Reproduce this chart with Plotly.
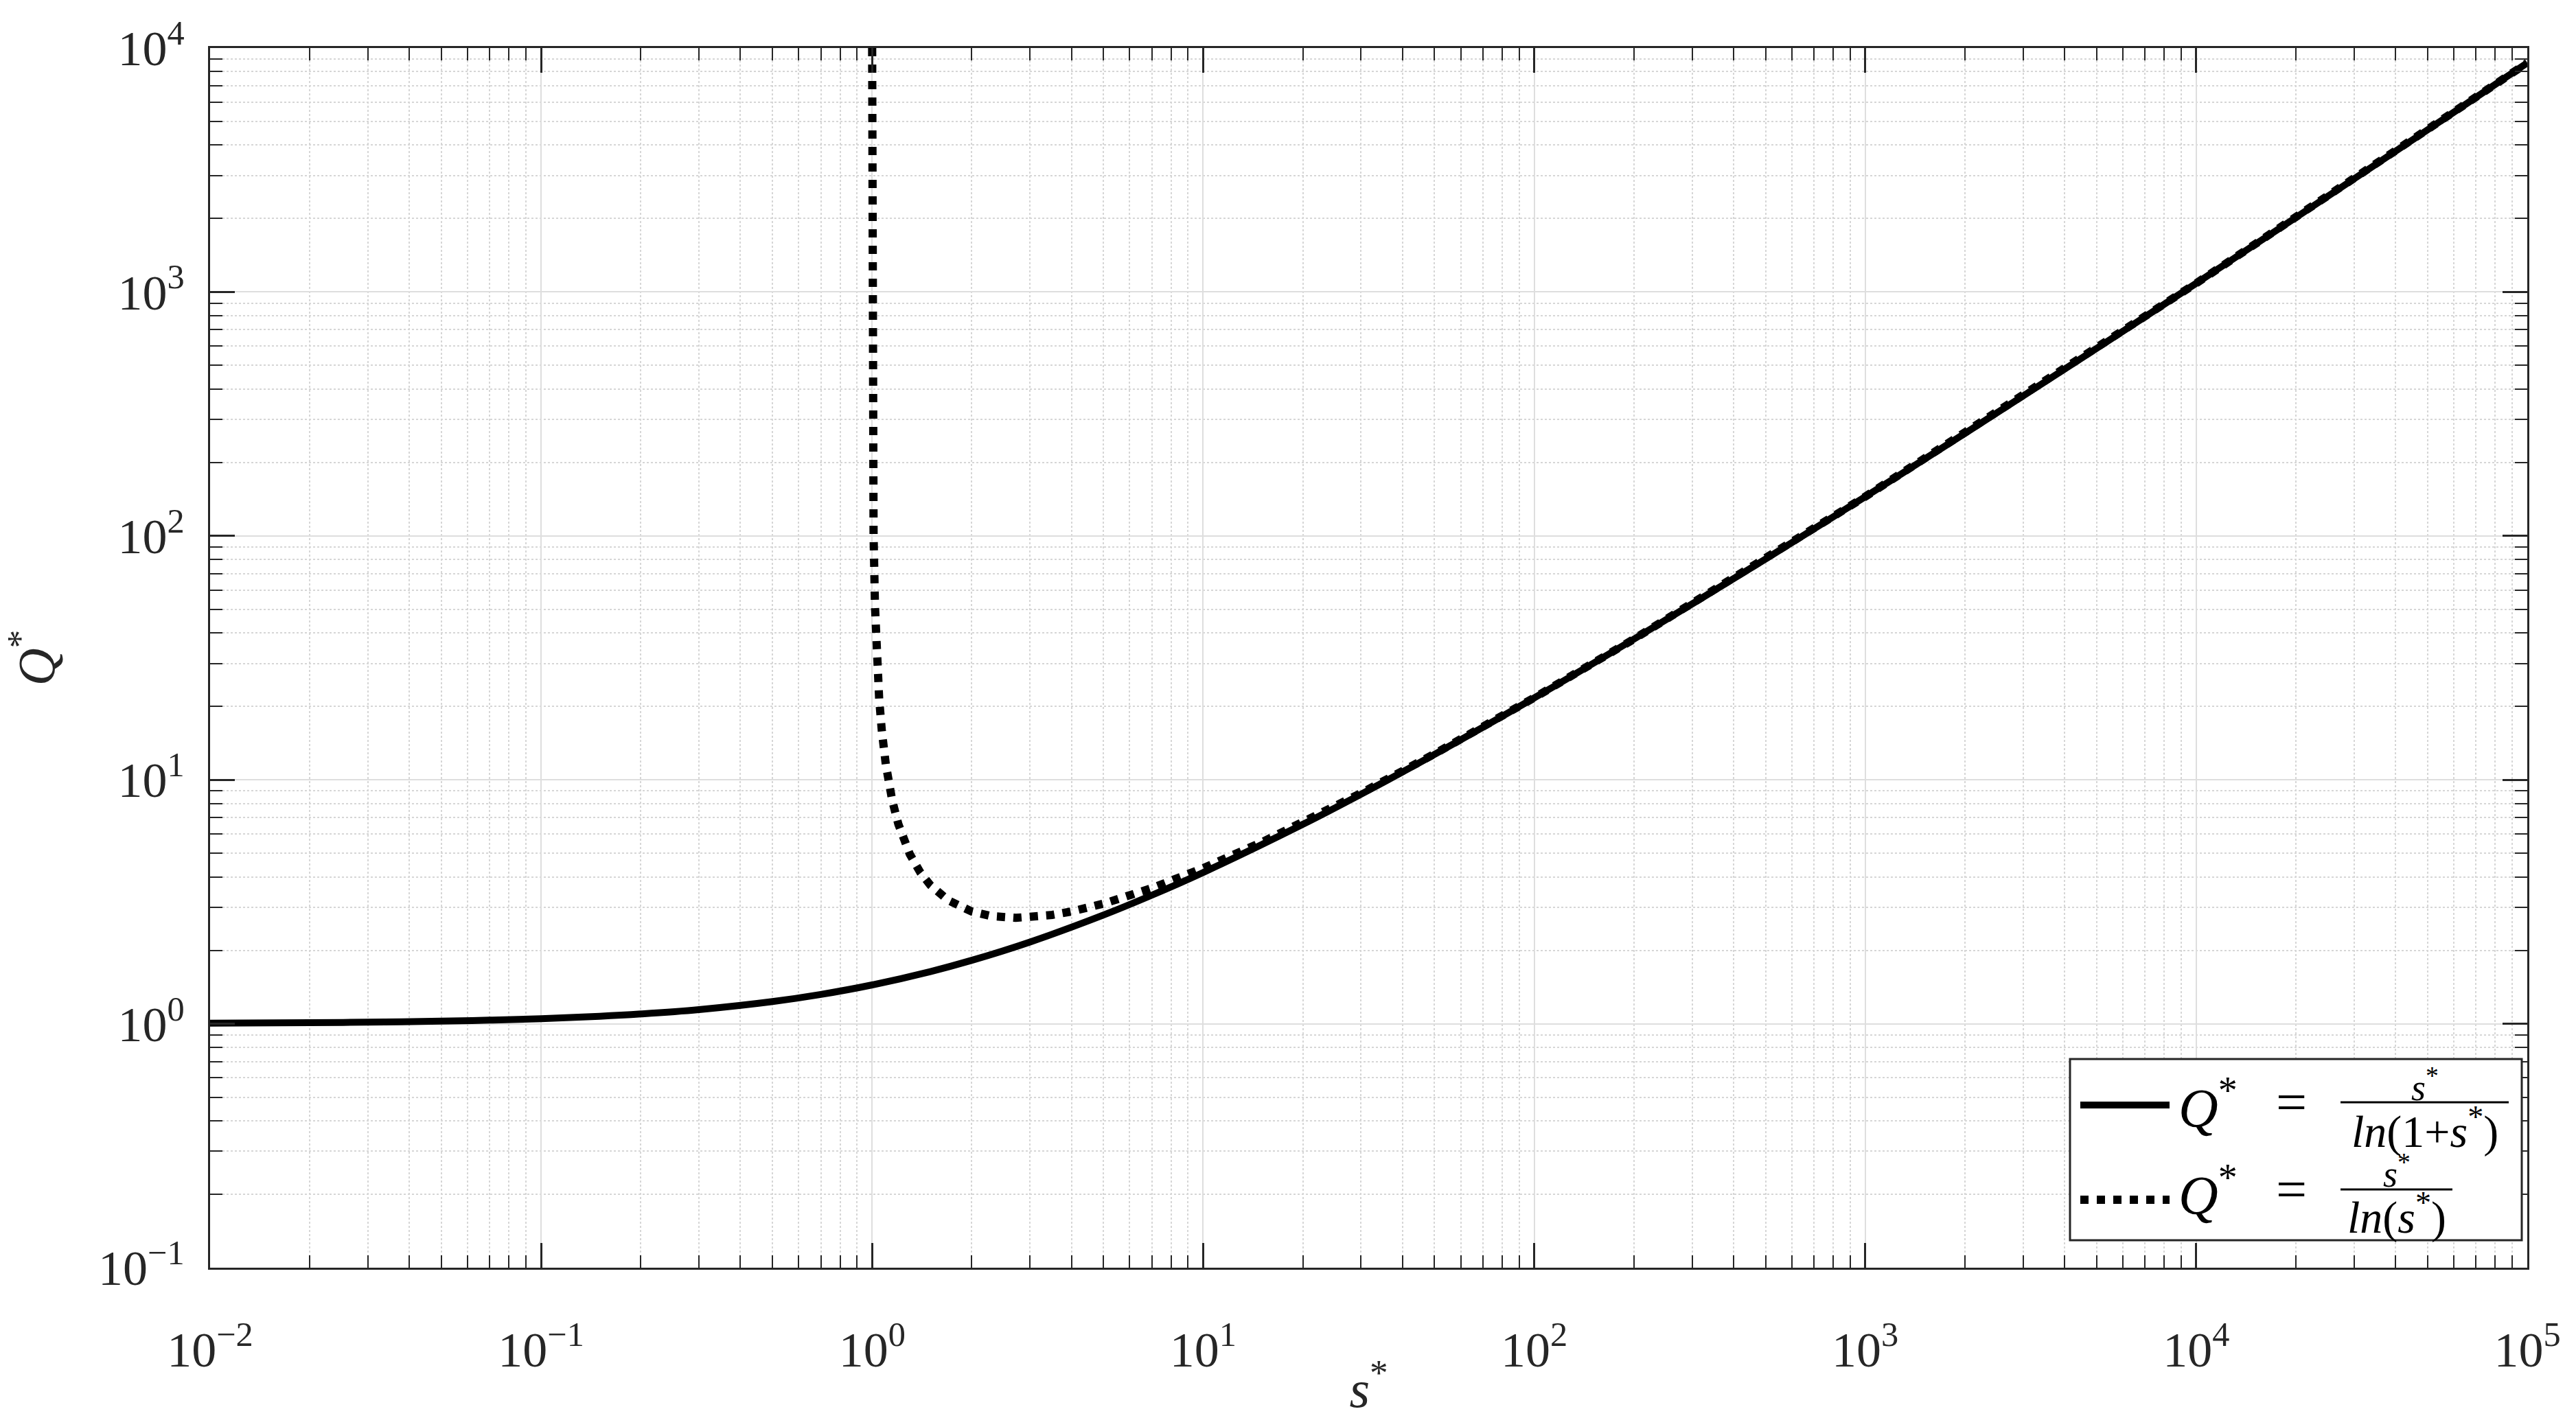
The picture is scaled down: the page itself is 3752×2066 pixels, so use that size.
import plotly.graph_objects as go

# ---------------- data ----------------
s_solid = [0.01, 0.02, 0.03, 0.05, 0.07, 0.1, 0.15, 0.2, 0.3, 0.5, 0.7, 1.0, 1.5, 2.0, 3.0,
           5.0, 7.0, 10.0, 20.0, 30.0, 50.0, 100.0, 200.0, 500.0, 1000.0, 2000.0, 5000.0,
           10000.0, 20000.0, 50000.0, 100000.0]
q_solid = [1.005, 1.010, 1.015, 1.025, 1.035, 1.049, 1.073, 1.097, 1.143, 1.233, 1.319, 1.443,
           1.637, 1.820, 2.164, 2.791, 3.366, 4.170, 6.569, 8.736, 12.72, 21.67, 37.71, 80.43,
           144.7, 263.1, 587.0, 1085.7, 2019.5, 4621.1, 8685.9]

s_dotted = [1.0001, 1.0002, 1.0005, 1.001, 1.002, 1.005, 1.01, 1.02, 1.03, 1.05, 1.07, 1.1,
            1.15, 1.2, 1.3, 1.4, 1.5, 1.7, 2.0, 2.3, 2.718, 3.0, 3.5, 4.0, 5.0, 7.0, 10.0,
            15.0, 20.0, 30.0, 50.0, 100.0, 200.0, 500.0, 1000.0, 10000.0, 100000.0]
q_dotted = [10001.0, 5001.5, 2001.5, 1001.5, 501.5, 201.5, 101.5, 51.51, 34.85, 21.52, 15.82,
            11.54, 8.228, 6.582, 4.955, 4.161, 3.699, 3.204, 2.885, 2.761, 2.718, 2.731, 2.794,
            2.885, 3.107, 3.597, 4.343, 5.539, 6.676, 8.820, 12.78, 21.71, 37.75, 80.46, 144.8,
            1085.7, 8685.9]

x_tick_vals = [1e-2, 1e-1, 1e0, 1e1, 1e2, 1e3, 1e4, 1e5]
x_tick_text = ["10<sup>\u22122</sup>", "10<sup>\u22121</sup>", "10<sup>0</sup>", "10<sup>1</sup>",
               "10<sup>2</sup>", "10<sup>3</sup>", "10<sup>4</sup>", "10<sup>5</sup>"]
y_tick_vals = [1e-1, 1e0, 1e1, 1e2, 1e3, 1e4]
y_tick_text = ["10<sup>\u22121</sup>", "10<sup>0</sup>", "10<sup>1</sup>", "10<sup>2</sup>",
               "10<sup>3</sup>", "10<sup>4</sup>"]

legend_solid = ("<i>Q</i><sup>*</sup>", "<i>s</i><sup>*</sup>", "<i>ln</i>(1+<i>s</i><sup>*</sup>)")
legend_dotted = ("<i>Q</i><sup>*</sup>", "<i>s</i><sup>*</sup>", "<i>ln</i>(<i>s</i><sup>*</sup>)")

# ---------------- layout geometry ----------------
W, H = 3752, 2066
L, R, T, B = 306, 71, 70, 219
PW, PH = W - L - R, H - T - B
FONT = "Liberation Serif, Times New Roman, serif"
AX = "#262626"

def px(xp):
    return (xp - L) / PW

def py(yp):
    return (H - B - yp) / PH

minor_x = [m * 10.0 ** e for e in range(-2, 5) for m in range(2, 10)]
minor_y = [m * 10.0 ** e for e in range(-1, 4) for m in range(2, 10)]

fig = go.Figure()
fig.add_trace(go.Scatter(x=s_dotted, y=q_dotted, mode="lines", name="dotted",
                         line=dict(color="black", width=12, dash="12px,12px"),
                         showlegend=False, hoverinfo="skip"))
fig.add_trace(go.Scatter(x=s_solid, y=q_solid, mode="lines", name="solid",
                         line=dict(color="black", width=10, shape="spline"),
                         showlegend=False, hoverinfo="skip"))

axis_common = dict(
    type="log", showline=True, linecolor=AX, linewidth=3, mirror="ticks",
    ticks="inside", ticklen=36, tickwidth=3, tickcolor=AX, automargin=False,
    showgrid=True, gridcolor="#dedede", gridwidth=2, zeroline=False,
    tickfont=dict(family=FONT, size=72, color=AX),
)

fig.update_xaxes(
    **axis_common, range=[-2, 5], tickmode="array", tickvals=x_tick_vals, ticktext=x_tick_text,
    minor=dict(tickmode="array", tickvals=minor_x, ticks="inside", ticklen=18, tickwidth=2,
               tickcolor=AX, showgrid=True, gridcolor="#d6d6d6", gridwidth=2, griddash="dot"),
    title=dict(text="<i>s</i><sup>*</sup>", font=dict(family=FONT, size=76, color=AX), standoff=0),
    ticklabelstandoff=55,
)
fig.update_yaxes(
    **axis_common, range=[-1, 4], tickmode="array", tickvals=y_tick_vals, ticktext=y_tick_text,
    minor=dict(tickmode="array", tickvals=minor_y, ticks="inside", ticklen=18, tickwidth=2,
               tickcolor=AX, showgrid=True, gridcolor="#d6d6d6", gridwidth=2, griddash="dot"),
    title=dict(text="<i>Q</i><sup>*</sup>", font=dict(family=FONT, size=76, color=AX), standoff=40),
    ticklabelstandoff=20,
)

# ---------------- custom legend (fractions) ----------------
shapes = [
    dict(type="rect", xref="paper", yref="paper", x0=px(3015), x1=px(3673), y0=py(1807), y1=py(1543),
         line=dict(color=AX, width=3), fillcolor="white", layer="above"),
    dict(type="line", xref="paper", yref="paper", x0=px(3030), x1=px(3160), y0=py(1610), y1=py(1610),
         line=dict(color="black", width=10), layer="above"),
    dict(type="line", xref="paper", yref="paper", x0=px(3030), x1=px(3160), y0=py(1748), y1=py(1748),
         line=dict(color="black", width=12, dash="12px,12px"), layer="above"),
    dict(type="line", xref="paper", yref="paper", x0=px(3409), x1=px(3654), y0=py(1606), y1=py(1606),
         line=dict(color="black", width=3), layer="above"),
    dict(type="line", xref="paper", yref="paper", x0=px(3409), x1=px(3572), y0=py(1733), y1=py(1733),
         line=dict(color="black", width=3), layer="above"),
]

annotations = []
# (texts, Q centre, bar y, numerator centre, denominator centre, bar right end)
for (q, num, den), yq, ybar, ynum, yden, x1 in [
        (legend_solid, 1608, 1606, 1580, 1644, 3654),
        (legend_dotted, 1735, 1733, 1706, 1769, 3572)]:
    xc = (3409 + x1) / 2
    annotations += [
        dict(text=q, x=px(3172), y=py(yq), xanchor="left", yanchor="middle",
             font=dict(family=FONT, size=80, color="black")),
        dict(text="=", x=px(3337), y=py(ybar), xanchor="center", yanchor="middle",
             font=dict(family=FONT, size=80, color="black")),
        dict(text=num, x=px(xc), y=py(ynum), xanchor="center", yanchor="middle",
             font=dict(family=FONT, size=54, color="black")),
        dict(text=den, x=px(xc), y=py(yden), xanchor="center", yanchor="middle",
             font=dict(family=FONT, size=66, color="black")),
    ]
for a in annotations:
    a.update(xref="paper", yref="paper", showarrow=False, borderpad=0)

fig.update_layout(
    width=W, height=H, autosize=False,
    margin=dict(l=L, r=R, t=T, b=B, pad=0),
    paper_bgcolor="white", plot_bgcolor="white",
    shapes=shapes, annotations=annotations,
    showlegend=False,
)

fig.write_html("out.html", config={"displayModeBar": False},
               post_script="document.body.style.margin='0';document.body.style.overflow='hidden';")
